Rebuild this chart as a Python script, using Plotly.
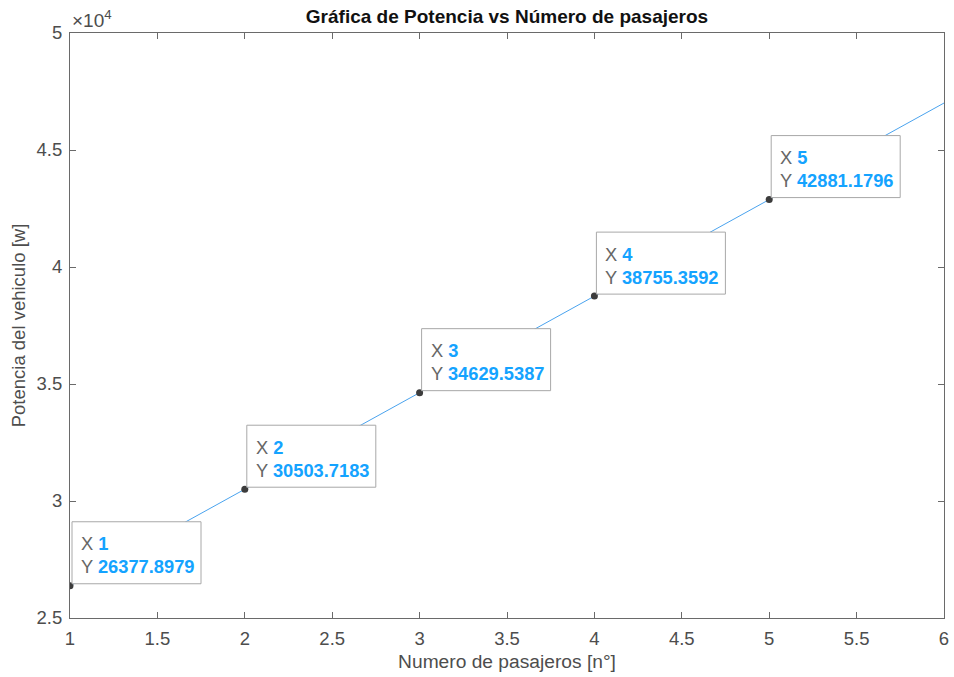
import plotly.graph_objects as go

# Power vs. number of passengers
pasajeros = [1, 2, 3, 4, 5, 6]
potencia = [26377.8979, 30503.7183, 34629.5387, 38755.3592, 42881.1796, 47007.0000]

# Points that carry a data tip
tip_x = [1, 2, 3, 4, 5]
tip_y = [26377.8979, 30503.7183, 34629.5387, 38755.3592, 42881.1796]

y_ticks = [25000, 30000, 35000, 40000, 45000, 50000]
y_tick_text = ["2.5", "3", "3.5", "4", "4.5", "5"]

FONT = "Liberation Sans, Arial, sans-serif"
TICK_COLOR = "#4d4d4d"
VALUE_COLOR = "#14a3ff"

fig = go.Figure()

fig.add_trace(go.Scatter(
    x=pasajeros, y=potencia, mode="lines",
    line=dict(color="#4aa3ee", width=1),
    hoverinfo="skip", showlegend=False,
))

shapes = []
annotations = []
for xv, yv in zip(tip_x, tip_y):
    # data tip box anchored at the point (pixel-sized)
    shapes.append(dict(
        type="rect", xref="x", yref="y",
        xsizemode="pixel", ysizemode="pixel",
        xanchor=xv, yanchor=yv,
        x0=2, x1=131, y0=2, y1=64,
        fillcolor="white",
        line=dict(color="#a8a8a8", width=1),
        layer="above",
    ))
    annotations.append(dict(
        x=xv, y=yv, xref="x", yref="y",
        xanchor="left", yanchor="middle",
        xshift=9, yshift=42, showarrow=False,
        text=f"X <span style='color:{VALUE_COLOR}'><b>{xv:g}</b></span>",
        font=dict(family=FONT, size=18.3, color="#666666"),
    ))
    annotations.append(dict(
        x=xv, y=yv, xref="x", yref="y",
        xanchor="left", yanchor="middle",
        xshift=9, yshift=19, showarrow=False,
        text=f"Y <span style='color:{VALUE_COLOR}'><b>{yv:.4f}</b></span>",
        font=dict(family=FONT, size=18.3, color="#666666"),
    ))

fig.add_trace(go.Scatter(
    x=tip_x, y=tip_y, mode="markers",
    marker=dict(color="#3c3c3c", size=7),
    hoverinfo="skip", showlegend=False,
))

# exponent label above the y axis
annotations.append(dict(
    x=0, y=1, xref="paper", yref="paper",
    xanchor="left", yanchor="bottom", yshift=0, xshift=0,
    text="×10<sup>4</sup>", showarrow=False,
    font=dict(family=FONT, size=19, color=TICK_COLOR),
))

fig.update_layout(
    width=954, height=677,
    margin=dict(l=70, r=10, t=33, b=59, autoexpand=False),
    paper_bgcolor="white", plot_bgcolor="white",
    title=dict(
        text="<b>Gráfica de Potencia vs Número de pasajeros</b>",
        x=(70 + 944) / 2 / 954, xanchor="center",
        y=1 - 16 / 677, yanchor="middle",
        font=dict(family=FONT, size=19, color="#111111"),
    ),
    shapes=shapes,
    annotations=annotations,
    xaxis=dict(
        range=[1, 6], dtick=0.5, tick0=1, automargin=False,
        showgrid=False, zeroline=False,
        showline=True, linecolor="#6a6a6a", linewidth=1, mirror="ticks",
        ticks="inside", ticklen=6, tickcolor="#6a6a6a",
        ticklabelstandoff=4,
        tickfont=dict(family=FONT, size=18.5, color=TICK_COLOR),
        title=dict(text="Numero de pasajeros [n°]", standoff=6,
                   font=dict(family=FONT, size=19.2, color=TICK_COLOR)),
    ),
    yaxis=dict(
        range=[25000, 50000], tickvals=y_ticks, ticktext=y_tick_text,
        automargin=False,
        showgrid=False, zeroline=False,
        showline=True, linecolor="#6a6a6a", linewidth=1, mirror="ticks",
        ticks="inside", ticklen=6, tickcolor="#6a6a6a",
        ticklabelstandoff=3,
        tickfont=dict(family=FONT, size=18.5, color=TICK_COLOR),
        title=dict(text="Potencia del vehiculo [w]", standoff=6,
                   font=dict(family=FONT, size=18.5, color=TICK_COLOR)),
    ),
)

fig.write_html("out.html")
